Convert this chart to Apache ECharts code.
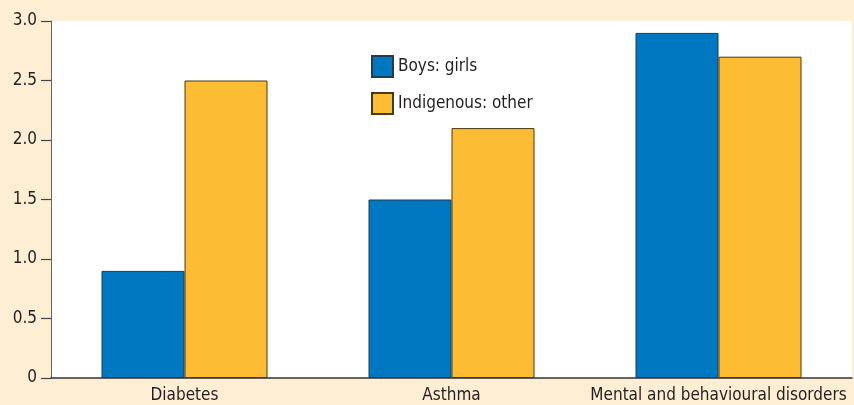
<!DOCTYPE html>
<html>
<head>
<meta charset="utf-8">
<script src="https://cdn.jsdelivr.net/npm/echarts@6/dist/echarts.min.js"></script>
<style>
  html, body { margin: 0; padding: 0; background: #feeed3; }
  #chart { width: 854px; height: 405px; }
</style>
</head>
<body>
<div id="chart"></div>
<script>
var categories = ['Diabetes', 'Asthma', 'Mental and behavioural disorders'];
var boysGirls = [0.9, 1.5, 2.9];
var indigenousOther = [2.5, 2.1, 2.7];

var font = "'Liberation Sans Narrow', 'DejaVu Sans Condensed', sans-serif";
var chart = echarts.init(document.getElementById('chart'));
var option = {
    backgroundColor: '#feeed3',
    textStyle: { fontFamily: font },
    grid: {
        left: 51, top: 21, right: 2, bottom: 27,
        show: true, backgroundColor: '#ffffff', borderWidth: 0
    },
    legend: {
        orient: 'vertical',
        left: 366, top: 50,
        icon: 'rect',
        itemWidth: 21, itemHeight: 21, itemGap: 14,
        textStyle: { fontFamily: font, fontSize: 17, color: '#231f20' },
        data: ['Boys: girls', 'Indigenous: other']
    },
    xAxis: {
        type: 'category',
        data: categories,
        axisLine: { lineStyle: { color: '#333333', width: 1.5 } },
        axisTick: { show: false },
        axisLabel: { interval: 0, fontFamily: font, fontSize: 17, color: '#231f20', margin: 9 }
    },
    yAxis: {
        type: 'value',
        min: 0, max: 3, interval: 0.5,
        axisLine: { show: true, lineStyle: { color: '#666666', width: 1 } },
        axisTick: { show: true, length: 10, lineStyle: { color: '#444444', width: 1.2 } },
        splitLine: { show: false },
        axisLabel: {
            fontFamily: font, fontSize: 17, color: '#231f20', margin: 14,
            formatter: function (v) { return v === 0 ? '0' : v.toFixed(1); }
        }
    },
    series: [
        {
            name: 'Boys: girls', type: 'bar', data: boysGirls,
            barWidth: 83, barGap: '0%',
            itemStyle: { color: '#0077c1', borderColor: '#1f3b55', borderWidth: 1 }
        },
        {
            name: 'Indigenous: other', type: 'bar', data: indigenousOther,
            barWidth: 83,
            itemStyle: { color: '#fcbc33', borderColor: '#4a3a10', borderWidth: 1 }
        }
    ]
};
chart.setOption(option);
</script>
</body>
</html>
